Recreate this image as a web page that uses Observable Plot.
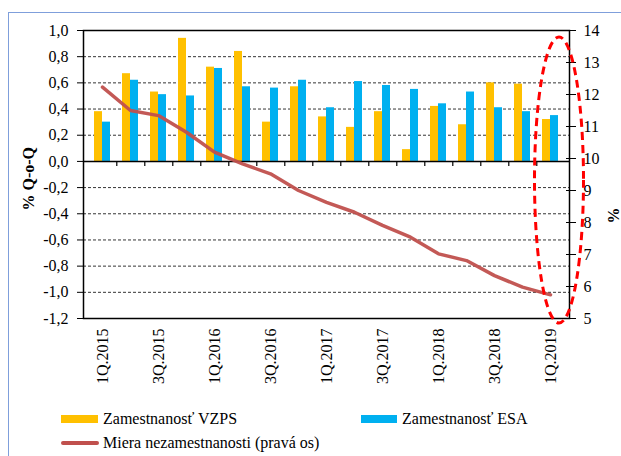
<!DOCTYPE html>
<html><head><meta charset="utf-8">
<script src="https://cdn.jsdelivr.net/npm/d3@7"></script>
<script src="https://cdn.jsdelivr.net/npm/@observablehq/plot@0.6"></script>
<style>
body{margin:0;background:#fff;width:621px;height:456px;overflow:hidden;position:relative;font-family:'Liberation Serif','DejaVu Serif',serif;}
#frame{position:absolute;left:8px;top:12px;width:700px;height:600px;border-left:1.5px solid #7f9fdb;border-top:1.5px solid #7f9fdb;}
#chart{position:absolute;left:0;top:0;}
#chart svg, #chart svg text{font-family:'Liberation Serif','DejaVu Serif',serif !important;}
.leg{position:absolute;font-size:16px;line-height:16px;white-space:nowrap;color:#000;font-family:'Liberation Serif','DejaVu Serif',serif;}
.sw{position:absolute;}
</style></head><body>
<div id="frame"></div>
<div id="chart"></div>
<div class="sw" style="left:61px;top:415px;width:37px;height:8px;background:#FFC000"></div>
<div class="leg" style="left:103px;top:411px">Zamestnanosť VZPS</div>
<div class="sw" style="left:361px;top:415px;width:36px;height:8px;background:#00B0F0"></div>
<div class="leg" style="left:402px;top:411px">Zamestnanosť ESA</div>
<div class="sw" style="left:61px;top:441px;width:38px;height:3.5px;background:#C0504D;border-radius:2px"></div>
<div class="leg" style="left:103px;top:435px">Miera nezamestnanosti (pravá os)</div>
<script>
const quarters = ["1Q.2015","2Q.2015","3Q.2015","4Q.2015","1Q.2016","2Q.2016","3Q.2016","4Q.2016",
  "1Q.2017","2Q.2017","3Q.2017","4Q.2017","1Q.2018","2Q.2018","3Q.2018","4Q.2018","1Q.2019"];
const vzps = [0.38,0.67,0.53,0.94,0.72,0.84,0.30,0.57,0.34,0.26,0.38,0.09,0.42,0.28,0.60,0.59,0.32];
const esa  = [0.30,0.62,0.51,0.50,0.71,0.57,0.56,0.62,0.41,0.61,0.58,0.55,0.44,0.53,0.41,0.38,0.35];
const unemp = [12.23,11.50,11.34,10.82,10.20,9.83,9.52,9.00,8.63,8.32,7.91,7.54,7.02,6.81,6.34,5.98,5.74];
const xTickLabels = ["1Q.2015","3Q.2015","1Q.2016","3Q.2016","1Q.2017","3Q.2017","1Q.2018","3Q.2018","1Q.2019"];
const yTicks = [1.0,0.8,0.6,0.4,0.2,0.0,-0.2,-0.4,-0.6,-0.8,-1.0,-1.2];
const gridVals = [0.8,0.6,0.4,0.2,-0.2,-0.4,-0.6,-0.8,-1.0];
const rightTicks = [5,6,7,8,9,10,11,12,13,14];
const leftDomain = [-1.2, 1.0];
const rightDomain = [5, 14];

const W = 621, H = 400, mL = 83, mR = 52, mT = 30, mB = 82;
const n = quarters.length;
const step = (W - mL - mR) / n;
const pxPerUnit = (H - mT - mB) / (leftDomain[1] - leftDomain[0]);
const toLeft = u => leftDomain[0] + (u - rightDomain[0]) * (leftDomain[1] - leftDomain[0]) / (rightDomain[1] - rightDomain[0]);
const fromLeft = v => rightDomain[0] + (v - leftDomain[0]) * (rightDomain[1] - rightDomain[0]) / (leftDomain[1] - leftDomain[0]);
const data = quarters.map((q, i) => ({q, vzps: vzps[i], esa: esa[i], u: toLeft(unemp[i])}));
const fmt = v => v.toFixed(1).replace(".", ",");

function ellipseMark(index, scales, values, dims) {
  const x = scales.x;
  const last = quarters[quarters.length - 1];
  const cx = x(last) + x.bandwidth() / 2 + 9;
  const cy = (dims.marginTop + dims.height - dims.marginBottom) / 2 + 6;
  const ns = "http://www.w3.org/2000/svg";
  const e = document.createElementNS(ns, "ellipse");
  e.setAttribute("cx", cx);
  e.setAttribute("cy", cy);
  e.setAttribute("rx", 24.5);
  e.setAttribute("ry", 143);
  e.setAttribute("fill", "none");
  e.setAttribute("stroke", "#FF0000");
  e.setAttribute("stroke-width", 3);
  e.setAttribute("stroke-dasharray", "8,5");
  return e;
}

const chart = Plot.plot({
  width: W, height: H, marginLeft: mL, marginRight: mR, marginTop: mT, marginBottom: mB,
  style: {fontFamily: "'Liberation Serif','DejaVu Serif',serif", fontSize: "16px", color: "black", background: "transparent", overflow: "visible"},
  x: {type: "band", domain: quarters, paddingInner: 0.72, paddingOuter: 0.36, align: 0.5},
  y: {domain: leftDomain},
  marks: [
    Plot.ruleY(gridVals, {stroke: "black", strokeWidth: 0.8, strokeDasharray: "3,2"}),
    Plot.barY(data, {x: "q", y: "vzps", fill: "#FFC000", dx: -4}),
    Plot.barY(data, {x: "q", y: "esa", fill: "#00B0F0", dx: 4}),
    Plot.ruleY([0], {stroke: "black", strokeWidth: 1.5}),
    Plot.ruleX(quarters.slice(0, -1), {x: d => d, y1: 0, y2: -5 / pxPerUnit, dx: step / 2, stroke: "black", strokeWidth: 1.2}),
    Plot.lineY(data, {x: "q", y: "u", stroke: "#C0504D", strokeWidth: 3.5, strokeOpacity: 0.95}),
    Plot.frame({stroke: "black", strokeWidth: 1.5}),
    Plot.axisY({anchor: "left", ticks: yTicks, tickFormat: fmt, tickSize: 6, tickPadding: 9, label: null}),
    Plot.axisY({anchor: "right", ticks: rightTicks.map(toLeft), tickFormat: v => String(Math.round(fromLeft(v))), tickSize: 10, dx: -4, tickPadding: 8, label: null}),
    Plot.axisX({ticks: xTickLabels, tickRotate: -90, tickSize: 0, tickPadding: 10, label: null}),
    Plot.text(["% Q-o-Q"], {frameAnchor: "left", dx: -55, dy: 36, rotate: -90, fontWeight: "bold"}),
    Plot.text(["%"], {frameAnchor: "right", dx: 44, dy: 33, rotate: -90, fontWeight: "bold"}),
    ellipseMark
  ]
});
document.getElementById("chart").appendChild(chart);
</script>
</body></html>
